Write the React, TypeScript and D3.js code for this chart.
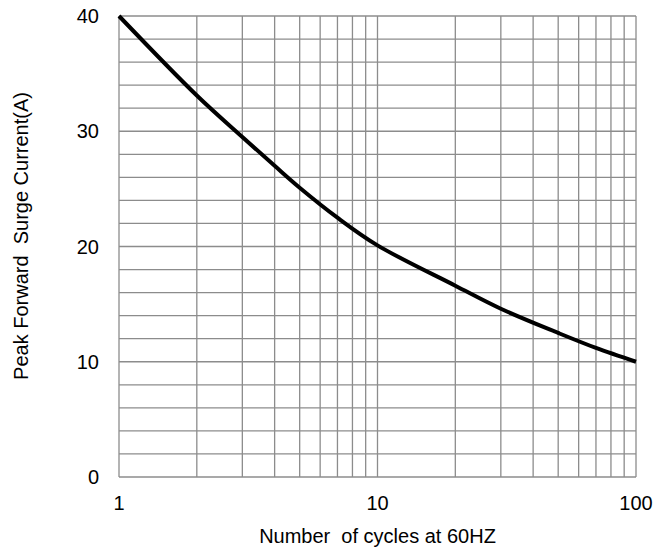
import { useEffect, useRef } from "react";
import * as d3 from "d3";

// cycles (log scale) vs peak forward surge current (A)
const cycles = [1, 2, 3, 4, 5, 7, 10, 20, 30, 50, 70, 100];
const current = [40, 33.1, 29.5, 27.0, 25.1, 22.5, 20.1, 16.6, 14.6, 12.5, 11.2, 10];
const xTicks = [1, 10, 100];
const yTicks = [0, 10, 20, 30, 40];

export default function App() {
  const svgRef = useRef<SVGSVGElement>(null);

  useEffect(() => {
    if (!svgRef.current) return;
    const width = 668;
    const height = 551;
    const margin = { top: 16, right: 32, bottom: 74, left: 119 };

    const svg = d3.select(svgRef.current);
    svg.selectAll("*").remove();

    const x = d3.scaleLog().domain([1, 100]).range([margin.left, width - margin.right]);
    const y = d3.scaleLinear().domain([0, 40]).range([height - margin.bottom, margin.top]);

    const font = "'Liberation Sans', Arial, sans-serif";
    const gridColor = "#8c8c8c";

    // vertical grid: 1..10, 20..100
    const xGrid: number[] = [];
    for (let dec = 1; dec < 100; dec *= 10) {
      for (let k = 1; k < 10; k++) xGrid.push(k * dec);
    }
    xGrid.push(100);
    const yGrid = d3.range(0, 41, 2);

    const grid = svg.append("g");
    grid
      .selectAll("line.v")
      .data(xGrid)
      .enter()
      .append("line")
      .attr("x1", (d) => x(d))
      .attr("x2", (d) => x(d))
      .attr("y1", y(0))
      .attr("y2", y(40))
      .attr("stroke", gridColor)
      .attr("stroke-width", 1.3);
    grid
      .selectAll("line.h")
      .data(yGrid)
      .enter()
      .append("line")
      .attr("x1", x(1))
      .attr("x2", x(100))
      .attr("y1", (d) => y(d))
      .attr("y2", (d) => y(d))
      .attr("stroke", gridColor)
      .attr("stroke-width", 1.3);

    // curve
    const line = d3
      .line<number>()
      .x((d, i) => x(cycles[i]))
      .y((d) => y(d))
      .curve(d3.curveCatmullRom.alpha(0.5));
    svg
      .append("path")
      .attr("d", line(current))
      .attr("fill", "none")
      .attr("stroke", "#000")
      .attr("stroke-width", 4);

    // tick labels
    svg
      .selectAll("text.yt")
      .data(yTicks)
      .enter()
      .append("text")
      .attr("x", x(1) - 20)
      .attr("y", (d) => y(d))
      .attr("dy", "0.35em")
      .attr("text-anchor", "end")
      .attr("font-family", font)
      .attr("font-size", 20)
      .text((d) => d);

    svg
      .selectAll("text.xt")
      .data(xTicks)
      .enter()
      .append("text")
      .attr("x", (d) => x(d))
      .attr("y", y(0) + 33)
      .attr("text-anchor", "middle")
      .attr("font-family", font)
      .attr("font-size", 20)
      .text((d) => d);

    // axis titles
    svg
      .append("text")
      .attr("x", x(10))
      .attr("y", 543)
      .attr("text-anchor", "middle")
      .attr("font-family", font)
      .attr("font-size", 20)
      .style("white-space", "pre")
      .text("Number  of cycles at 60HZ");

    svg
      .append("text")
      .attr("transform", `translate(28,236) rotate(-90)`)
      .attr("text-anchor", "middle")
      .attr("font-family", font)
      .attr("font-size", 20)
      .style("white-space", "pre")
      .text("Peak Forward  Surge Current(A)");
  }, []);

  return (
    <svg
      ref={svgRef}
      width={668}
      height={551}
      style={{ position: "absolute", left: 0, top: 0, background: "#fff" }}
    />
  );
}
